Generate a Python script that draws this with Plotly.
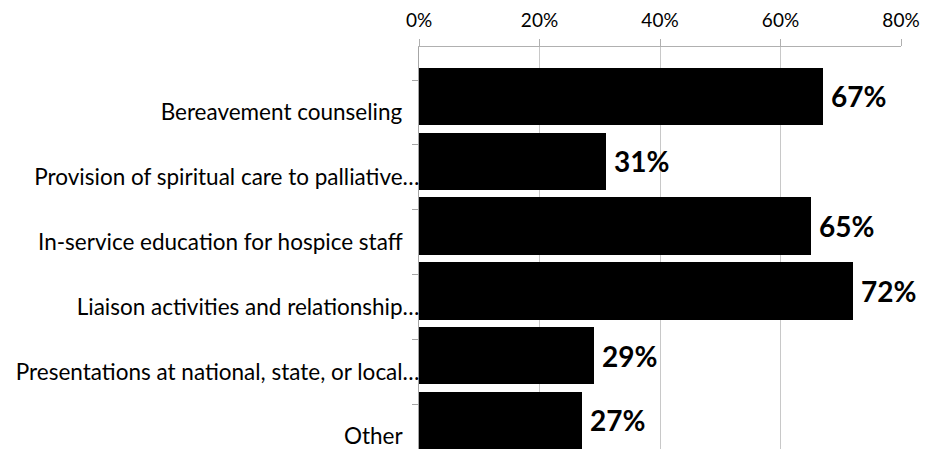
import plotly.graph_objects as go

# Chaplain activity categories and share of respondents
categories = [
    "Bereavement counseling",
    "Provision of spiritual care to palliative",
    "In-service education for hospice staff",
    "Liaison activities and relationship",
    "Presentations at national, state, or local",
    "Other",
]
category_labels = [
    "Bereavement counseling\u00a0\u00a0\u00a0\u200b",
    "Provision of spiritual care to palliative\u2026",
    "In-service education for hospice staff\u00a0\u00a0\u00a0\u200b",
    "Liaison activities and relationship\u2026",
    "Presentations at national, state, or local\u2026",
    "Other\u00a0\u00a0\u00a0\u200b",
]
values = [0.67, 0.31, 0.65, 0.72, 0.29, 0.27]
x_ticks = [0, 0.2, 0.4, 0.6, 0.8]
x_tick_labels = ["0%", "20%", "40%", "60%", "80%"]

FONT = "Lato"
BAR_WIDTH = 0.887
BAR_SHIFT = -0.248  # bar centre sits slightly above the category band centre

fig = go.Figure()
fig.add_trace(
    go.Bar(
        x=values,
        y=categories,
        orientation="h",
        width=BAR_WIDTH,
        offset=BAR_SHIFT - BAR_WIDTH / 2,
        marker=dict(color="#000000", line=dict(width=0)),
        showlegend=False,
        hoverinfo="skip",
    )
)

# value labels to the right of each bar
for i, v in enumerate(values):
    fig.add_annotation(
        x=v,
        y=i + BAR_SHIFT,
        xref="x",
        yref="y",
        text=f"<b>{round(v * 100)}%</b>",
        showarrow=False,
        xanchor="left",
        yanchor="middle",
        xshift=6,
        font=dict(family=FONT, size=28, color="#000000"),
    )

fig.update_layout(
    width=930,
    height=449,
    autosize=False,
    margin=dict(l=419, r=29, t=47, b=0, pad=0),
    plot_bgcolor="#ffffff",
    paper_bgcolor="#ffffff",
    bargap=0,
    font=dict(family=FONT, color="#000000"),
    xaxis=dict(
        side="top",
        range=[0, 0.8],
        tickvals=x_ticks,
        ticktext=x_tick_labels,
        showgrid=True,
        gridcolor="#c8c8c8",
        gridwidth=1,
        zeroline=False,
        showline=True,
        linecolor="#b0b0b0",
        linewidth=1,
        ticks="outside",
        ticklen=7,
        tickcolor="#b0b0b0",
        ticklabelstandoff=4,
        tickfont=dict(family=FONT, size=19, color="#000000"),
        fixedrange=True,
    ),
    yaxis=dict(
        type="category",
        categoryorder="array",
        categoryarray=categories,
        tickvals=categories,
        ticktext=category_labels,
        range=[5.193, -1.011],
        tickson="boundaries",
        ticks="outside",
        ticklen=6,
        tickcolor="#a6a6a6",
        showline=True,
        linecolor="#a6a6a6",
        linewidth=1,
        showgrid=False,
        zeroline=False,
        ticklabelstandoff=-6,
        tickfont=dict(family=FONT, size=22.5, color="#000000"),
        fixedrange=True,
    ),
)

fig.write_html("out.html", config={"displayModeBar": False})
